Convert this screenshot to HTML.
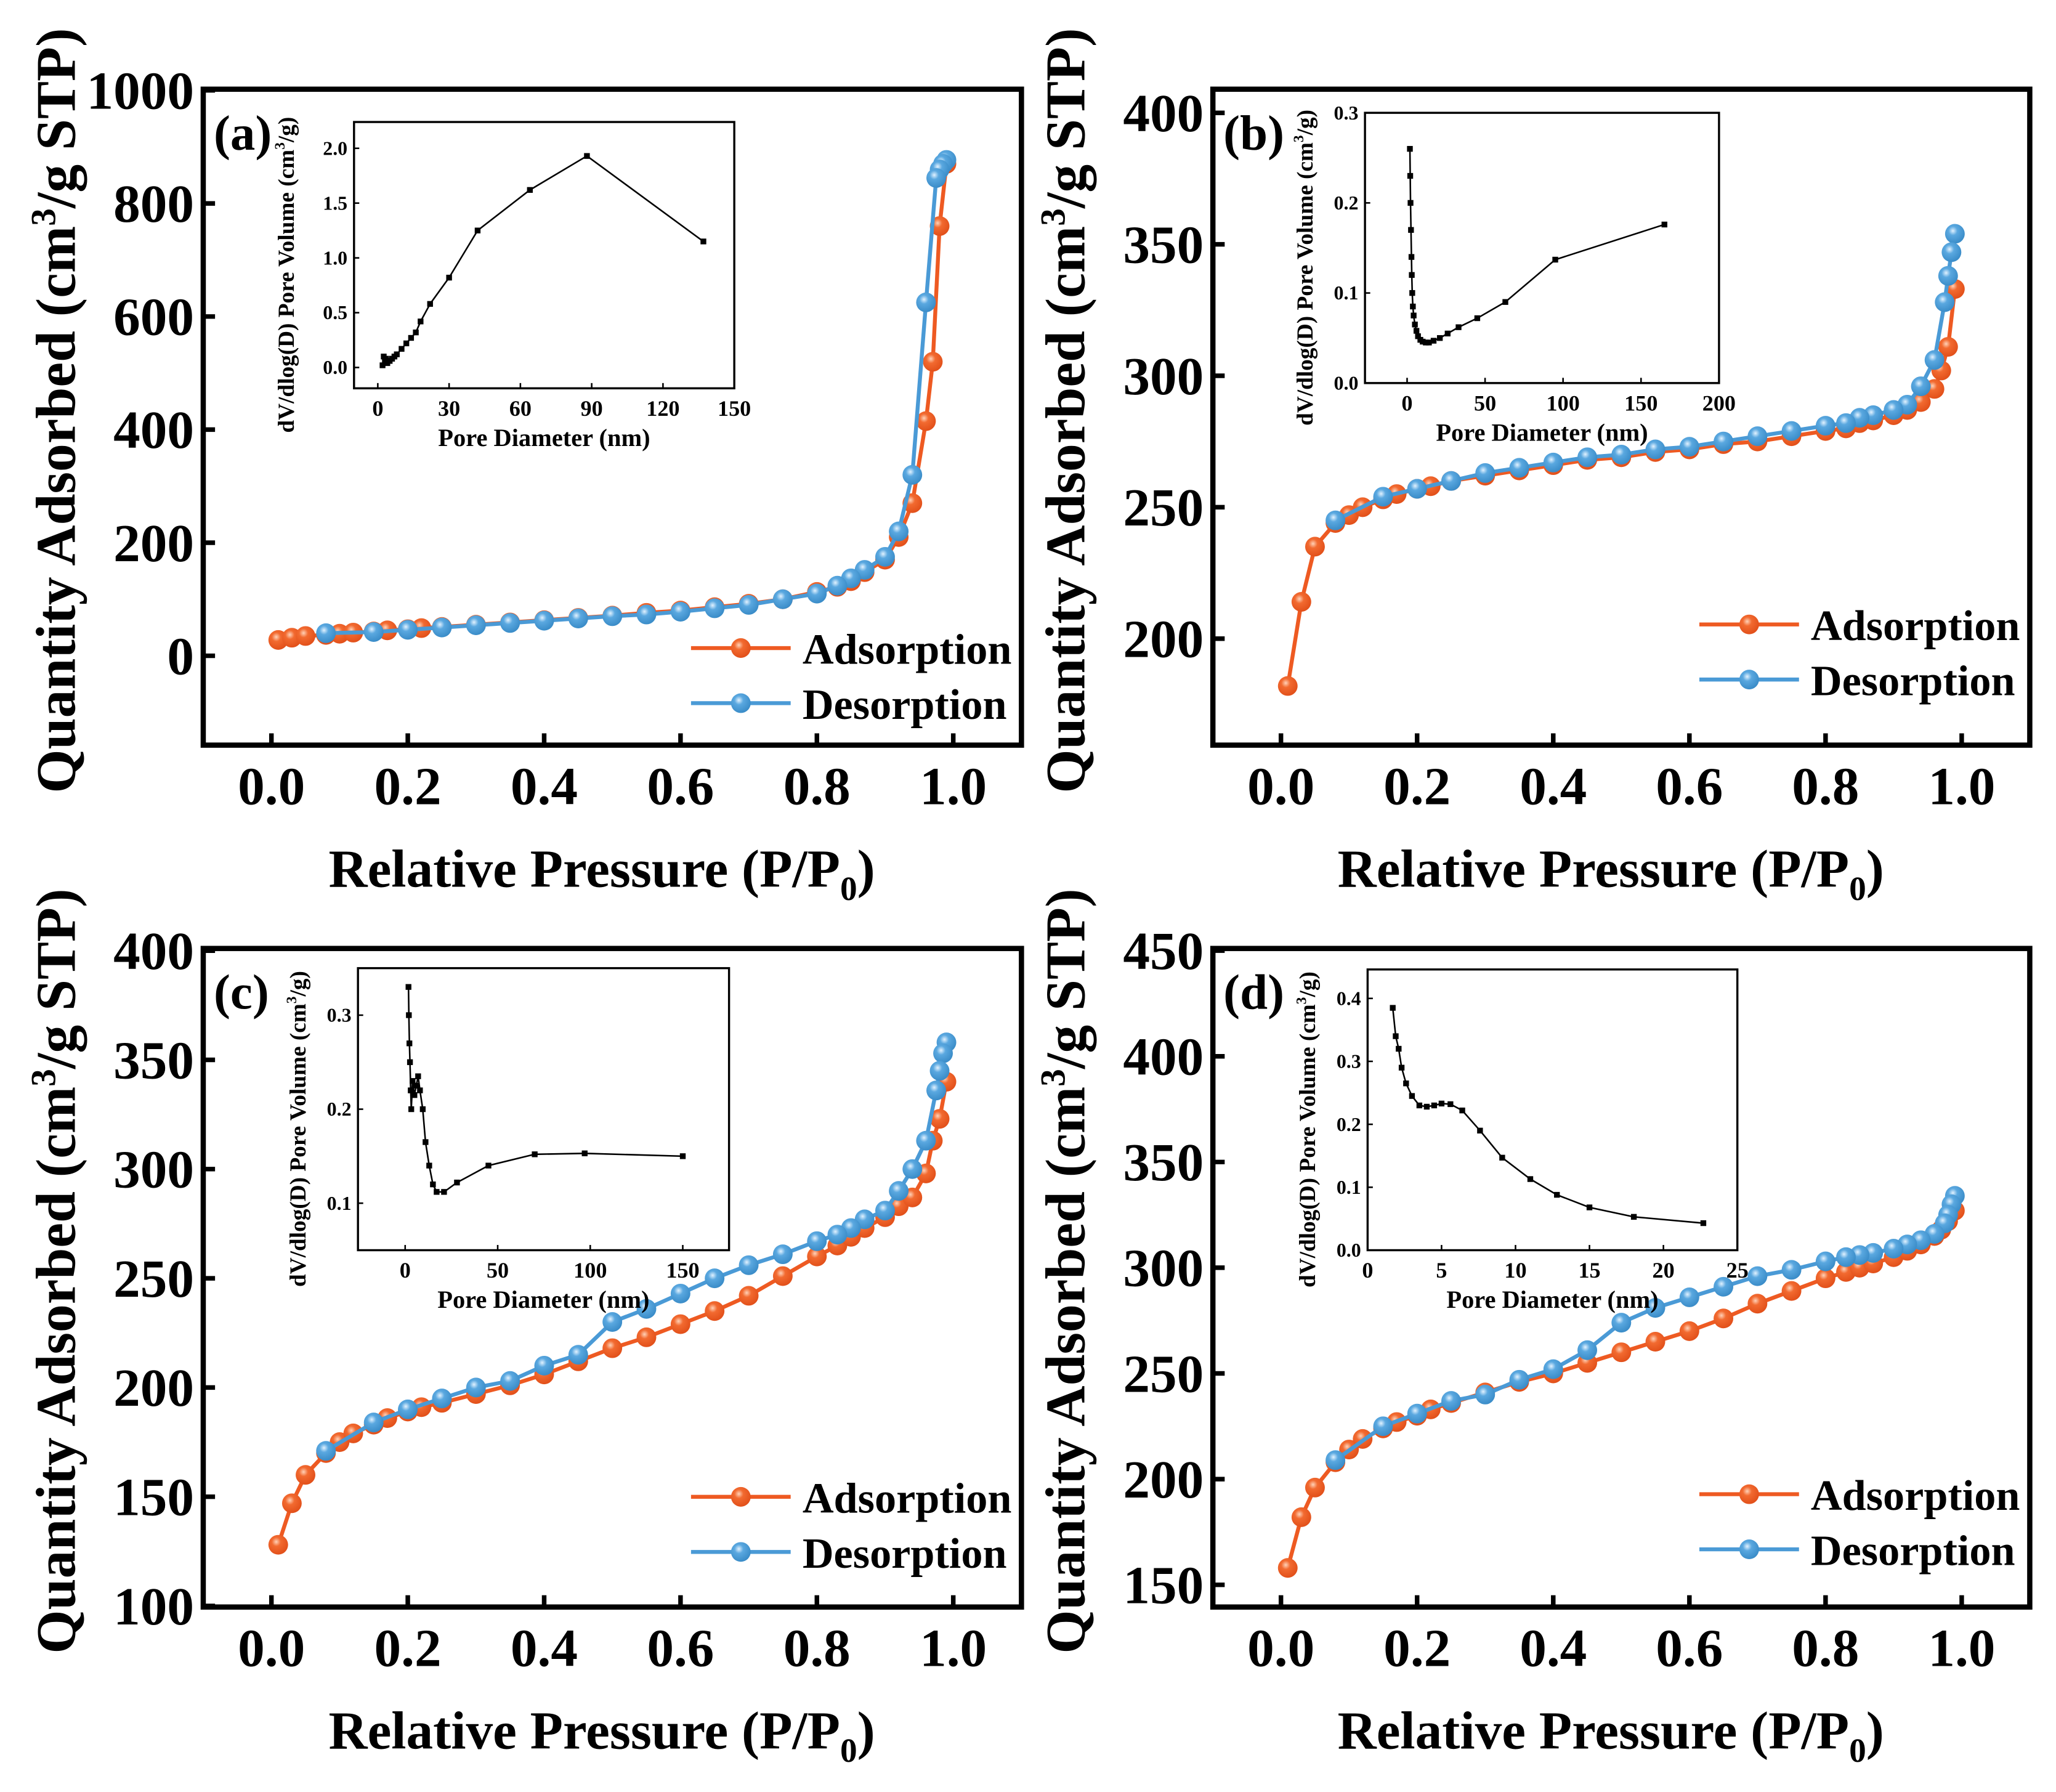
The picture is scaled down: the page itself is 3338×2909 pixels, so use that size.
<!DOCTYPE html>
<html><head><meta charset="utf-8">
<style>
html,body{margin:0;padding:0;background:#fff;}
svg{display:block;}
text{font-family:"Liberation Serif",serif;font-weight:bold;fill:#000;}
</style></head>
<body>
<svg id="fig" width="3338" height="2909" viewBox="0 0 1568 1366" preserveAspectRatio="none" xmlns="http://www.w3.org/2000/svg">
<defs>
<radialGradient id="gO" cx="0.4" cy="0.35" r="0.65"><stop offset="0" stop-color="#ffd2b8"/><stop offset="0.35" stop-color="#f26a30"/><stop offset="1" stop-color="#e2501a"/></radialGradient>
<radialGradient id="gB" cx="0.4" cy="0.35" r="0.65"><stop offset="0" stop-color="#e2f2ff"/><stop offset="0.35" stop-color="#5aa8e0"/><stop offset="1" stop-color="#3a8cc8"/></radialGradient>
</defs>
</svg>
<script>
// ---- main isotherm data ----
const adsX = [0.01,0.03,0.05,0.08,0.1,0.12,0.15,0.17,0.2,0.22,0.25,0.3,0.35,0.4,0.45,0.5,0.55,0.6,0.65,0.7,0.75,0.8,0.83,0.85,0.87,0.9,0.92,0.94,0.96,0.97,0.98,0.99];
const desX = [0.99,0.985,0.98,0.975,0.96,0.94,0.92,0.9,0.87,0.85,0.83,0.8,0.75,0.7,0.65,0.6,0.55,0.5,0.45,0.4,0.35,0.3,0.25,0.2,0.15,0.08];
const aAds = [28,32,35,37,39,41,43,45,47,49,51,55,59,63,67,71,76,80,86,92,100,113,122,132,148,170,210,270,415,520,760,870];
const aDes = [877,870,860,845,625,320,220,175,152,137,124,110,100,90,84,78,73,70,66,62,58,54,50,46,42,40];
const bAds = [182,214,235,244,247,250,253,255,257,258,260,262,264,266,268,269,271,272,274,275,277,279,280,282,283,285,287,290,295,302,311,333];
const bDes = [354,347,338,328,306,296,289,287,285,284,282,281,279,277,275,273,272,270,269,267,265,263,260,257,254,245];
const cAds = [128,147,160,170,175,179,183,186,189,191,193,197,201,206,212,218,223,229,235,242,251,260,265,269,273,278,283,287,298,313,323,340];
const cDes = [358,353,345,336,313,300,290,281,277,273,270,267,261,256,250,243,236,230,215,210,203,200,195,190,184,171];
const dAds = [158,182,196,208,214,219,224,227,230,233,236,241,246,250,255,260,265,270,276,283,289,295,298,300,302,305,308,311,315,318,322,327];
const dDes = [334,330,325,321,316,313,311,309,307,306,305,303,299,296,291,286,281,274,261,252,247,240,237,231,225,209];
const xTicks = [0,0.2,0.4,0.6,0.8,1.0];
const xTickLabels = ["0.0","0.2","0.4","0.6","0.8","1.0"];
const aYTicks = [0,200,400,600,800,1000];
const bYTicks = [200,250,300,350,400];
const cYTicks = [100,150,200,250,300,350,400];
const dYTicks = [150,200,250,300,350,400,450];
// ---- inset pore size data ----
const aInD = [2,2.5,3,3.5,4,5,6,7,8,10,12,14,16,18,22,30,42,64,88,137];
const aInV = [0.02,0.1,0.05,0.08,0.04,0.06,0.08,0.1,0.12,0.17,0.22,0.27,0.32,0.42,0.58,0.82,1.25,1.62,1.93,1.15];
const bInD = [1.8,2,2.2,2.5,2.8,3,3.3,3.7,4.2,5,6,7,8.5,10,12,14,17,21,26,33,45,63,95,165];
const bInV = [0.26,0.23,0.2,0.17,0.14,0.12,0.1,0.085,0.075,0.065,0.058,0.052,0.048,0.046,0.045,0.045,0.047,0.05,0.055,0.062,0.072,0.09,0.137,0.176];
const cInD = [1.8,2,2.3,2.6,3,3.3,4,5,6,7,8,9.5,11,13,15,17,21,28,45,70,97,150];
const cInV = [0.33,0.3,0.27,0.25,0.22,0.2,0.23,0.215,0.225,0.235,0.22,0.2,0.165,0.14,0.12,0.112,0.112,0.122,0.14,0.152,0.153,0.15];
const dInD = [1.7,1.9,2.1,2.3,2.6,3,3.5,4,4.5,5,5.6,6.4,7.6,9.1,11,12.8,15,18,22.7];
const dInV = [0.385,0.34,0.32,0.29,0.265,0.245,0.23,0.228,0.23,0.233,0.232,0.222,0.19,0.147,0.113,0.088,0.068,0.053,0.043];
const aInXT=[0,30,60,90,120,150], aInYT=[0,0.5,1.0,1.5,2.0], aInYL=["0.0","0.5","1.0","1.5","2.0"];
const bInXT=[0,50,100,150,200], bInYT=[0,0.1,0.2,0.3], bInYL=["0.0","0.1","0.2","0.3"];
const cInXT=[0,50,100,150], cInYT=[0.1,0.2,0.3], cInYL=["0.1","0.2","0.3"];
const dInXT=[0,5,10,15,20,25], dInYT=[0,0.1,0.2,0.3,0.4], dInYL=["0.0","0.1","0.2","0.3","0.4"];

const NS="http://www.w3.org/2000/svg";
const svg=document.getElementById('fig');
function mk(tag,attrs,parent,txt){const e=document.createElementNS(NS,tag);for(const k in attrs)e.setAttribute(k,attrs[k]);if(txt!==undefined)e.textContent=txt;(parent||svg).appendChild(e);return e;}

function panel(id,box,ymin,ymax,yTicks,ads,des,legY,inset){
  const g=mk('g',{});
  
  
  const X=v=>box.x0+(v+0.1)/1.2*(box.x1-box.x0);
  const Y=v=>box.y1-(v-ymin)/(ymax-ymin)*(box.y1-box.y0);
  const fr=mk('rect',{x:box.x0,y:box.y0,width:box.x1-box.x0,height:box.y1-box.y0,fill:'none',stroke:'#000','stroke-width':4},g);
  
  
  xTicks.forEach((t,i)=>{
    const l=mk('line',{x1:X(t),x2:X(t),y1:box.y1,y2:box.y1-9,stroke:'#000','stroke-width':3.5},g);
    
    
    const tx=mk('text',{x:X(t),y:box.y1+45,'font-size':41,'text-anchor':'middle'},g,xTickLabels[i]);
    
    
  });
  yTicks.forEach(t=>{
    const l=mk('line',{x1:box.x0,x2:box.x0+9,y1:Y(t),y2:Y(t),stroke:'#000','stroke-width':3.5},g);
    
    
    const tx=mk('text',{x:box.x0-7,y:Y(t)+14,'font-size':41,'text-anchor':'end'},g,String(t));
    
    
  });
  const cx=(box.x0+box.x1)/2;
  const xt=mk('text',{x:cx-8,y:box.y1+108,'font-size':41,'text-anchor':'middle'},g);
  
  
  xt.innerHTML='Relative Pressure (P/P<tspan font-size="26" dy="10">0</tspan><tspan dy="-10">)</tspan>';
  const cy=(box.y0+box.y1)/2-5;
  const yt=mk('text',{x:0,y:0,'font-size':43,'text-anchor':'middle',transform:`translate(${box.x0-98},${cy}) rotate(-90)`},g);
  
  
  yt.innerHTML='Quantity Adsorbed (cm<tspan font-size="27" dy="-15">3</tspan><tspan dy="15">/g STP)</tspan>';
  const pl=mk('text',{x:box.x0+8,y:box.y0+46,'font-size':38},g,'('+id+')');
  
  
  function series(xs,ys,col,grad,name){
    const pts=xs.map((x,i)=>X(x)+','+Y(ys[i])).join(' ');
    const pl=mk('polyline',{points:pts,fill:'none',stroke:col,'stroke-width':3},g);
    
    
    xs.forEach((x,i)=>{
      const c=mk('circle',{cx:X(x),cy:Y(ys[i]),r:7.5,fill:'url(#'+grad+')'},g);
      
      
    });
  }
  series(adsX,ads,'#ee5a22','gO','adsorption');
  series(desX,des,'#4a9ad6','gB','desorption');
  const lx=box.x1-252;
  [['Adsorption','#ee5a22','gO',legY],['Desorption','#4a9ad6','gB',legY+42]].forEach(L=>{
    const lg=mk('g',{},g);
    
    
    mk('line',{x1:lx,x2:lx+76,y1:L[3],y2:L[3],stroke:L[1],'stroke-width':3},lg);
    mk('circle',{cx:lx+38,cy:L[3],r:7.5,fill:'url(#'+L[2]+')'},lg);
    mk('text',{x:lx+85,y:L[3]+12,'font-size':33},lg,L[0]);
  });
  // inset
  const I=inset;
  const ig=mk('g',{},g);
  
  
  const IX=v=>I.x0+(v-I.xmin)/(I.xmax-I.xmin)*(I.x1-I.x0);
  const IY=v=>I.y1-(v-I.ymin)/(I.ymax-I.ymin)*(I.y1-I.y0);
  mk('rect',{x:I.x0,y:I.y0,width:I.x1-I.x0,height:I.y1-I.y0,fill:'#fff',stroke:'#000','stroke-width':1.6},ig);
  I.xt.forEach(t=>{
    mk('line',{x1:IX(t),x2:IX(t),y1:I.y1,y2:I.y1-4,stroke:'#000','stroke-width':1.2},ig);
    const tt=mk('text',{x:IX(t),y:I.y1+21,'font-size':17,'text-anchor':'middle'},ig,String(t));
    
    
  });
  I.yt.forEach((t,i)=>{
    mk('line',{x1:I.x0,x2:I.x0+4,y1:IY(t),y2:IY(t),stroke:'#000','stroke-width':1.2},ig);
    const tt=mk('text',{x:I.x0-5,y:IY(t)+5,'font-size':15,'text-anchor':'end'},ig,I.yl[i]);
    
    
  });
  const ixt=mk('text',{x:(I.x0+I.x1)/2,y:I.y1+44,'font-size':19,'text-anchor':'middle'},ig,'Pore Diameter (nm)');
  
  
  const iyt=mk('text',{x:0,y:0,'font-size':17.5,'text-anchor':'middle',transform:`translate(${I.x0-I.yOff},${(I.y0+I.y1)/2+15}) rotate(-90)`},ig);
  
  
  iyt.innerHTML='dV/dlog(D) Pore Volume (cm<tspan font-size="11" dy="-7">3</tspan><tspan dy="7">/g)</tspan>';
  const ip=mk('polyline',{points:I.d.map((x,i)=>IX(x)+','+IY(I.v[i])).join(' '),fill:'none',stroke:'#000','stroke-width':1.2},ig);
  
  
  I.d.forEach((x,i)=>{
    const r=mk('rect',{x:IX(x)-2.2,y:IY(I.v[i])-2.2,width:4.4,height:4.4,fill:'#000'},ig);
    
    
  });
}

panel('a',{x0:155,x1:779,y0:68,y1:568},-158,1002,aYTicks,aAds,aDes,494,
  {x0:270,x1:560,y0:93,y1:296,xmin:-10,xmax:150,ymin:-0.19,ymax:2.24,xt:aInXT,yt:aInYT,yl:aInYL,d:aInD,v:aInV,yOff:46});
panel('b',{x0:925,x1:1548,y0:68,y1:568},159.5,409,bYTicks,bAds,bDes,476,
  {x0:1041,x1:1311,y0:86,y1:292,xmin:-27,xmax:200,ymin:0,ymax:0.3,xt:bInXT,yt:bInYT,yl:bInYL,d:bInD,v:bInV,yOff:40});
panel('c',{x0:155,x1:779,y0:723,y1:1225},99.5,401,cYTicks,cAds,cDes,1141,
  {x0:273,x1:556,y0:738,y1:953,xmin:-25.5,xmax:175,ymin:0.05,ymax:0.35,xt:cInXT,yt:cInYT,yl:cInYL,d:cInD,v:cInV,yOff:40});
panel('d',{x0:925,x1:1548,y0:723,y1:1225},139.5,451,dYTicks,dAds,dDes,1139,
  {x0:1043,x1:1325,y0:739,y1:953,xmin:0,xmax:25,ymin:0,ymax:0.446,xt:dInXT,yt:dInYT,yl:dInYL,d:dInD,v:dInV,yOff:40});
</script>
</body></html>
